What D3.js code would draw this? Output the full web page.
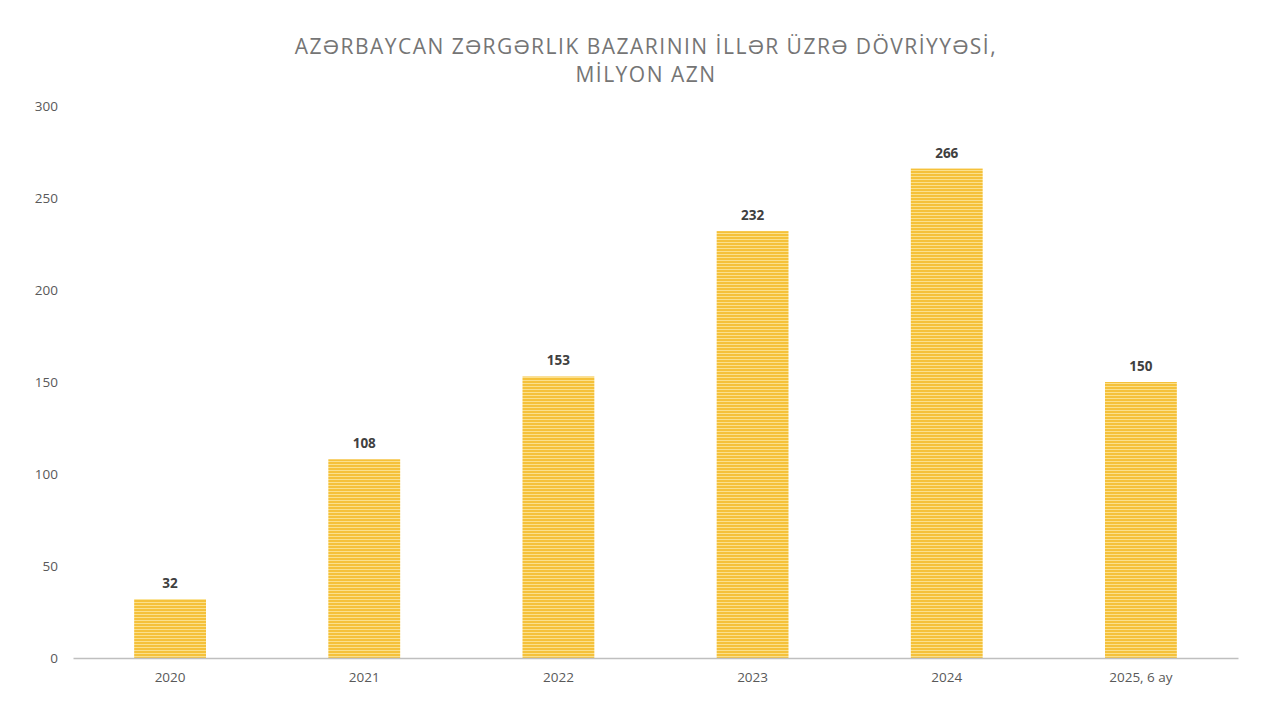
<!DOCTYPE html>
<html>
<head>
<meta charset="utf-8">
<script src="https://cdn.jsdelivr.net/npm/d3@7"></script>
<style>
  body { margin: 0; background: #fff; }
  .axis text { font-family: "Open Sans", "Liberation Sans", sans-serif; font-size: 13.5px; fill: #595959; }
</style>
</head>
<body>
<div id="chart"></div>
<script>
// data van de grafiek
const years = ["2020", "2021", "2022", "2023", "2024", "2025, 6 ay"];
const turnover = [32, 108, 153, 232, 266, 150];
const yTicks = [0, 50, 100, 150, 200, 250, 300];
const titleLines = ["AZƏRBAYCAN ZƏRGƏRLIK BAZARININ İLLƏR ÜZRƏ DÖVRİYYƏSİ,", "MİLYON AZN"];

const width = 1280;
const height = 720;
const margin = {top: 106, bottom: 62, left: 73, right: 42};

const svg = d3.select("#chart")
    .append("svg")
    .attr("width", width)
    .attr("height", height);

// streepjespatroon voor de balken
const pattern = svg.append("defs").append("pattern")
    .attr("id", "stripes")
    .attr("patternUnits", "userSpaceOnUse")
    .attr("width", 4)
    .attr("height", 3);
pattern.append("rect").attr("width", 4).attr("height", 3).attr("fill", "#fbe08c");
pattern.append("rect").attr("width", 4).attr("height", 2).attr("fill", "#f5c13a");

// titel
svg.append("g")
    .selectAll("text")
    .data(titleLines)
    .enter()
    .append("text")
    .attr("x", 646)
    .attr("y", function(d, i) { return 54 + i * 28; })
    .attr("text-anchor", "middle")
    .attr("font-family", "'Open Sans', sans-serif")
    .attr("font-size", 21)
    .attr("letter-spacing", 1.5)
    .attr("fill", "#757575")
    .text(function(d) { return d; });

const x = d3.scaleBand()
    .domain(years)
    .range([margin.left, width - margin.right])
    .paddingInner(0.63)
    .paddingOuter(0.315);

const y = d3.scaleLinear()
    .domain([0, 300])
    .range([height - margin.bottom, margin.top]);

// y-as zonder lijn
const yAxis = svg.append("g")
    .attr("class", "axis")
    .attr("transform", "translate(" + margin.left + ",0)")
    .call(d3.axisLeft(y).tickValues(yTicks).tickSize(0).tickPadding(15));
yAxis.select(".domain").remove();

// balken
svg.append("g")
    .selectAll("rect")
    .data(turnover)
    .enter()
    .append("rect")
    .attr("x", function(d, i) { return x(years[i]); })
    .attr("y", function(d) { return y(d); })
    .attr("width", x.bandwidth())
    .attr("height", function(d) { return y(0) - y(d); })
    .attr("fill", "url(#stripes)");

// x-as
const xAxis = svg.append("g")
    .attr("class", "axis")
    .attr("transform", "translate(0," + y(0) + ")")
    .call(d3.axisBottom(x).tickSize(0).tickPadding(14).tickSizeOuter(0));
xAxis.select(".domain").attr("stroke", "#bfbfbf").attr("stroke-width", 1.5);

// waardelabels
svg.append("g")
    .selectAll("text")
    .data(turnover)
    .enter()
    .append("text")
    .attr("x", function(d, i) { return x(years[i]) + x.bandwidth() / 2; })
    .attr("y", function(d) { return y(d) - 11; })
    .attr("text-anchor", "middle")
    .attr("font-family", "'Open Sans', sans-serif")
    .attr("font-size", 13.5)
    .attr("font-weight", "bold")
    .attr("fill", "#404040")
    .text(function(d) { return d; });
</script>
</body>
</html>
